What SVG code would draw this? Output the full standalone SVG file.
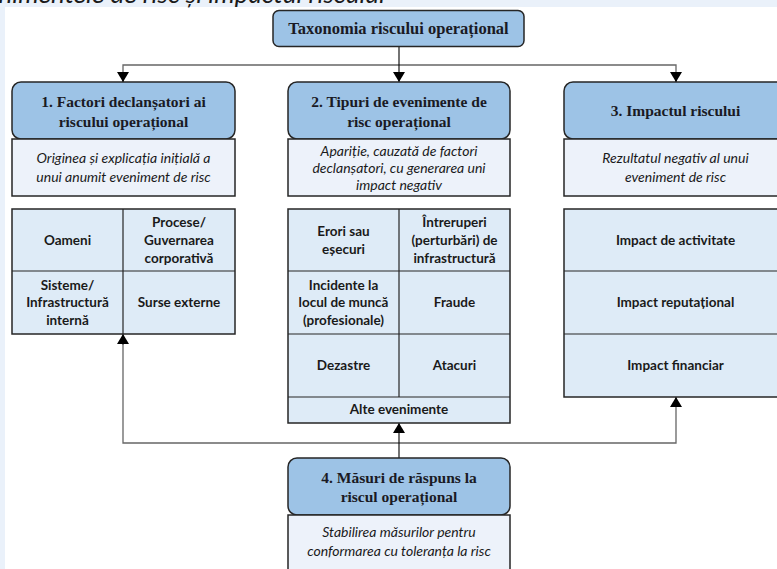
<svg xmlns="http://www.w3.org/2000/svg" width="777" height="569" viewBox="0 0 777 569">
<defs>
<marker id="ah" viewBox="0 0 10 12" refX="10" refY="6" markerWidth="10" markerHeight="12" markerUnits="userSpaceOnUse" orient="auto">
<path d="M0,0 L10,6 L0,12 Z" fill="#000"/>
</marker>
<style>
.hd{fill:#9dc3e6;stroke:#262626;stroke-width:1.5}
.ds{fill:#edf2fa;stroke:#262626;stroke-width:1.5}
.gr{fill:#deebf7;stroke:#262626;stroke-width:1.5}
.ln{stroke:#262626;stroke-width:1.2}
.ht{font-family:"Liberation Serif",serif;font-weight:bold;font-size:15.5px;fill:#1a1a24;text-anchor:middle}
.dt{font-family:Lato,"Liberation Sans",sans-serif;font-style:italic;font-size:14px;fill:#1a1a1a;text-anchor:middle}
.gt{font-family:Lato,"Liberation Sans",sans-serif;font-weight:bold;font-size:13.5px;fill:#1a1a1a;text-anchor:middle}
.cn{fill:none;stroke:#666;stroke-width:1.3}
.ca{fill:none;stroke:#000;stroke-width:1.1}
</style>
</defs>
<rect x="0" y="0" width="777" height="569" fill="#eaf1fa"/>
<rect x="5" y="7" width="772" height="562" fill="#fff"/>
<text x="385" y="3" font-family="Lato,'Liberation Sans',sans-serif" font-style="italic" font-size="26" fill="#1a1a1a" text-anchor="end">evenimentele de risc și impactul riscului</text>

<g id="connectors">
<path class="cn" d="M123,82 V65 H676 V82"/>
<path class="ca" d="M399,47 V82" marker-end="url(#ah)"/>
<path class="ca" d="M123,72 V82" marker-end="url(#ah)"/>
<path class="ca" d="M676,72 V82" marker-end="url(#ah)"/>
<path class="cn" d="M123,345 V443 H676 V405"/>
<path class="ca" d="M399,458 V423" marker-end="url(#ah)"/>
<path class="ca" d="M123,345 V334" marker-end="url(#ah)"/>
<path class="ca" d="M676,405 V397" marker-end="url(#ah)"/>
</g>

<g id="root">
<rect class="hd" x="273" y="10.5" width="251" height="36" rx="6"/>
<text class="ht" x="398.5" y="34" style="font-size:16.5px">Taxonomia riscului operațional</text>
</g>

<g id="node1">
<rect class="hd" x="12" y="82" width="223" height="57" rx="9"/>
<text class="ht" x="123.5" y="107">1. Factori declanșatori ai</text>
<text class="ht" x="123.5" y="127">riscului operațional</text>
<rect class="ds" x="12" y="139" width="223" height="57"/>
<text class="dt" x="123.5" y="163">Originea și explicația inițială a</text>
<text class="dt" x="123.5" y="182">unui anumit eveniment de risc</text>
</g>

<g id="node1-grid">
<rect class="gr" x="12" y="209" width="223" height="125"/>
<path class="ln" d="M12,271 H235 M123,209 V334"/>
<text class="gt" x="67.5" y="245">Oameni</text>
<text class="gt" x="179" y="227">Procese/</text>
<text class="gt" x="179" y="245">Guvernarea</text>
<text class="gt" x="179" y="263">corporativă</text>
<text class="gt" x="67.5" y="290">Sisteme/</text>
<text class="gt" x="67.5" y="307">Infrastructură</text>
<text class="gt" x="67.5" y="325">internă</text>
<text class="gt" x="179" y="307">Surse externe</text>
</g>

<g id="node2">
<rect class="hd" x="288" y="82" width="222" height="57" rx="9"/>
<text class="ht" x="399" y="107">2. Tipuri de evenimente de</text>
<text class="ht" x="399" y="127">risc operațional</text>
<rect class="ds" x="288" y="139" width="222" height="57"/>
<text class="dt" x="399" y="156">Apariție, cauzată de factori</text>
<text class="dt" x="399" y="173">declanșatori, cu generarea uni</text>
<text class="dt" x="399" y="190">impact negativ</text>
</g>

<g id="node2-grid">
<rect class="gr" x="288" y="209" width="222" height="214"/>
<path class="ln" d="M288,271 H510 M288,334 H510 M288,397 H510 M399,209 V397"/>
<text class="gt" x="343.5" y="236">Erori sau</text>
<text class="gt" x="343.5" y="254">eșecuri</text>
<text class="gt" x="454.5" y="227">Întreruperi</text>
<text class="gt" x="454.5" y="245">(perturbări) de</text>
<text class="gt" x="454.5" y="263">infrastructură</text>
<text class="gt" x="343.5" y="290">Incidente la</text>
<text class="gt" x="343.5" y="307">locul de muncă</text>
<text class="gt" x="343.5" y="325">(profesionale)</text>
<text class="gt" x="454.5" y="307">Fraude</text>
<text class="gt" x="343.5" y="370">Dezastre</text>
<text class="gt" x="454.5" y="370">Atacuri</text>
<text class="gt" x="399" y="414">Alte evenimente</text>
</g>

<g id="node3">
<rect class="hd" x="564" y="82" width="223" height="57" rx="9"/>
<text class="ht" x="675.5" y="116">3. Impactul riscului</text>
<rect class="ds" x="564" y="139" width="223" height="57"/>
<text class="dt" x="675.5" y="163">Rezultatul negativ al unui</text>
<text class="dt" x="675.5" y="182">eveniment de risc</text>
</g>

<g id="node3-grid">
<rect class="gr" x="564" y="209" width="223" height="188"/>
<path class="ln" d="M564,271 H787 M564,334 H787"/>
<text class="gt" x="675.5" y="245">Impact de activitate</text>
<text class="gt" x="675.5" y="307">Impact reputațional</text>
<text class="gt" x="675.5" y="370">Impact financiar</text>
</g>

<g id="node4">
<rect class="hd" x="288" y="458" width="222" height="57" rx="9"/>
<text class="ht" x="399" y="483">4. Măsuri de răspuns la</text>
<text class="ht" x="399" y="502">riscul operațional</text>
<rect class="ds" x="288" y="515" width="222" height="64"/>
<text class="dt" x="399" y="537">Stabilirea măsurilor pentru</text>
<text class="dt" x="399" y="556">conformarea cu toleranța la risc</text>
</g>
</svg>
